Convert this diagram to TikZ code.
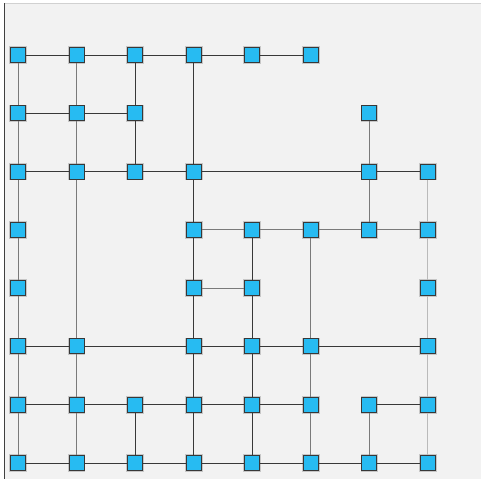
\documentclass[tikz,border=0pt]{standalone}
\usepackage{tikz}

\definecolor{panelgray}{HTML}{F2F2F2}
\definecolor{cellblue}{HTML}{27BBF2}
\tikzset{
  cell/.style={draw=black!78, fill=cellblue, line width=0.9pt, minimum size=15pt,
    inner sep=0pt, preaction={draw=black!22, line width=2.6pt}},
  wdark/.style={draw=black!78, line width=0.9pt},
  wmid/.style={draw=black!52, line width=1pt},
  wlight/.style={draw=black!27, line width=1pt}
}

\begin{document}
\begin{tikzpicture}[x=1pt,y=-1pt]
\useasboundingbox (0,0) rectangle (481,479);
\fill[white] (0,0) rectangle (481,479);
\fill[panelgray] (4,3) rectangle (481,479);
\draw[black!18,line width=1.4pt] (4,3.7) -- (481,3.7);
\draw[black!75,line width=1.4pt] (4.7,3) -- (4.7,479);

% cells, row by row
\foreach \c in {0,...,5} \node[cell] (n\c-0) at ({18+58.57*\c},55) {};
\foreach \c in {0,1,2,6} \node[cell] (n\c-1) at ({18+58.57*\c},113.3) {};
\foreach \c in {0,1,2,3,6,7} \node[cell] (n\c-2) at ({18+58.57*\c},171.6) {};
\foreach \c in {0,3,4,5,6,7} \node[cell] (n\c-3) at ({18+58.57*\c},229.9) {};
\foreach \c in {0,3,4,7} \node[cell] (n\c-4) at ({18+58.57*\c},288.2) {};
\foreach \c in {0,1,3,4,5,7} \node[cell] (n\c-5) at ({18+58.57*\c},346.4) {};
\foreach \c in {0,...,7} \node[cell] (n\c-6) at ({18+58.57*\c},404.7) {};
\foreach \c in {0,...,7} \node[cell] (n\c-7) at ({18+58.57*\c},463) {};

% horizontal links
\draw[wdark] (n0-0) -- (n1-0) -- (n2-0) -- (n3-0) -- (n4-0) -- (n5-0);
\draw[wdark] (n0-1) -- (n1-1) -- (n2-1);
\draw[wdark] (n0-2) -- (n1-2) -- (n2-2) -- (n3-2) -- (n6-2) -- (n7-2);
\draw[wmid] (n3-3) -- (n4-3) -- (n5-3) -- (n6-3) -- (n7-3);
\draw[wmid] (n3-4) -- (n4-4);
\draw[wdark] (n0-5) -- (n1-5) -- (n3-5) -- (n4-5) -- (n5-5) -- (n7-5);
\draw[wdark] (n0-6) -- (n1-6) -- (n2-6) -- (n3-6) -- (n4-6) -- (n5-6);
\draw[wdark] (n6-6) -- (n7-6);
\draw[wdark] (n0-7) -- (n1-7) -- (n2-7) -- (n3-7) -- (n4-7) -- (n5-7) -- (n6-7) -- (n7-7);

% vertical links
\draw[wmid] (n0-0) -- (n0-1) -- (n0-2) -- (n0-3) -- (n0-4) -- (n0-5) -- (n0-6) -- (n0-7);
\draw[wmid] (n1-0) -- (n1-1) -- (n1-2) -- (n1-5) -- (n1-6) -- (n1-7);
\draw[wdark] (n2-0) -- (n2-1) -- (n2-2);
\draw[wdark] (n2-6) -- (n2-7);
\draw[wdark] (n3-0) -- (n3-2) -- (n3-3) -- (n3-4) -- (n3-5) -- (n3-6) -- (n3-7);
\draw[wdark] (n4-3) -- (n4-4) -- (n4-5) -- (n4-6) -- (n4-7);
\draw[wmid] (n5-3) -- (n5-5) -- (n5-6) -- (n5-7);
\draw[wmid] (n6-1) -- (n6-2) -- (n6-3);
\draw[wmid] (n6-6) -- (n6-7);
\draw[wlight] (n7-2) -- (n7-3) -- (n7-4) -- (n7-5) -- (n7-6) -- (n7-7);
\end{tikzpicture}
\end{document}
